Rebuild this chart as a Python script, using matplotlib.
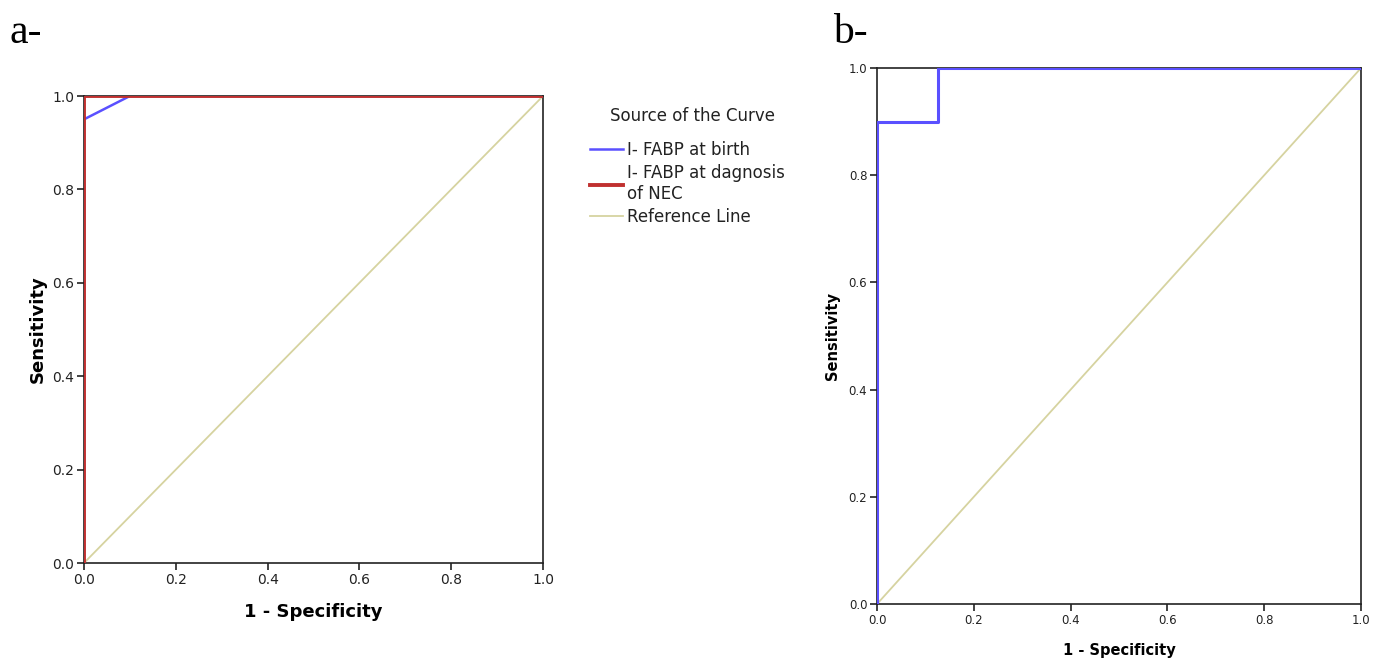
import matplotlib
matplotlib.use("Agg")
import matplotlib.pyplot as plt

plt.rcParams["font.family"] = ["DejaVu Sans"]

# panel a
a_birth_x = [0.0, 0.0, 0.1, 1.0]
a_birth_y = [0.0, 0.95, 1.0, 1.0]
a_nec_x = [0.0, 0.0, 1.0]
a_nec_y = [0.0, 1.0, 1.0]
# panel b
b_x = [0.0, 0.0, 0.125, 0.125, 1.0]
b_y = [0.0, 0.9, 0.9, 1.0, 1.0]
ref = [0.0, 1.0]
ticks = [0.0, 0.2, 0.4, 0.6, 0.8, 1.0]

blue = "#5a50ff"
red = "#c0302f"
refc = "#d6d3a0"

fig = plt.figure(figsize=(13.79, 6.63), dpi=100)
ax1 = fig.add_axes([0.0609, 0.1508, 0.3329, 0.7044])
ax2 = fig.add_axes([0.636, 0.089, 0.351, 0.8085])


def style(ax, fs_tick, fs_lab, xpad, ypad):
    ax.set_xlim(0, 1)
    ax.set_ylim(0, 1)
    ax.set_xticks(ticks)
    ax.set_yticks(ticks)
    ax.set_xticklabels([f"{t:.1f}" for t in ticks])
    ax.set_yticklabels([f"{t:.1f}" for t in ticks])
    ax.tick_params(direction="out", length=5, width=1.2, pad=2,
                   labelsize=fs_tick, colors="#222222")
    for s in ax.spines.values():
        s.set_linewidth(1.2)
        s.set_color("#222222")
    ax.set_xlabel("1 - Specificity", fontsize=fs_lab, fontweight="bold", labelpad=xpad)
    ax.set_ylabel("Sensitivity", fontsize=fs_lab, fontweight="bold", labelpad=ypad)


ax1.plot(ref, ref, color=refc, lw=1.3, label="Reference Line", zorder=2)
ax1.plot(a_birth_x, a_birth_y, color=blue, lw=1.8, label="I- FABP at birth", zorder=3)
ax1.plot(a_nec_x, a_nec_y, color=red, lw=2.8, label="I- FABP at dagnosis\nof NEC", zorder=4)
style(ax1, 10, 13, 12, 4)

h, l = ax1.get_legend_handles_labels()
order = [1, 2, 0]
leg = fig.legend([h[i] for i in order], [l[i] for i in order],
                 loc="upper left", bbox_to_anchor=(0.417, 0.81),
                 frameon=False, fontsize=12, handlelength=2.0,
                 handletextpad=0.2, labelspacing=0.3)
for t in leg.get_texts():
    t.set_color("#222222")
fig.text(0.5025, 0.825, "Source of the Curve", fontsize=12, color="#222222",
         ha="center", va="center")

ax2.plot(ref, ref, color=refc, lw=1.3, zorder=2)
ax2.plot(b_x, b_y, color=blue, lw=2.2, zorder=3)
style(ax2, 8.5, 10.5, 12, 6)

fig.text(0.007, 0.935, "a-", fontsize=30, family=["Liberation Serif", "DejaVu Serif"])
fig.text(0.604, 0.935, "b-", fontsize=30, family=["Liberation Serif", "DejaVu Serif"])

fig.savefig("out.png", dpi=100)
